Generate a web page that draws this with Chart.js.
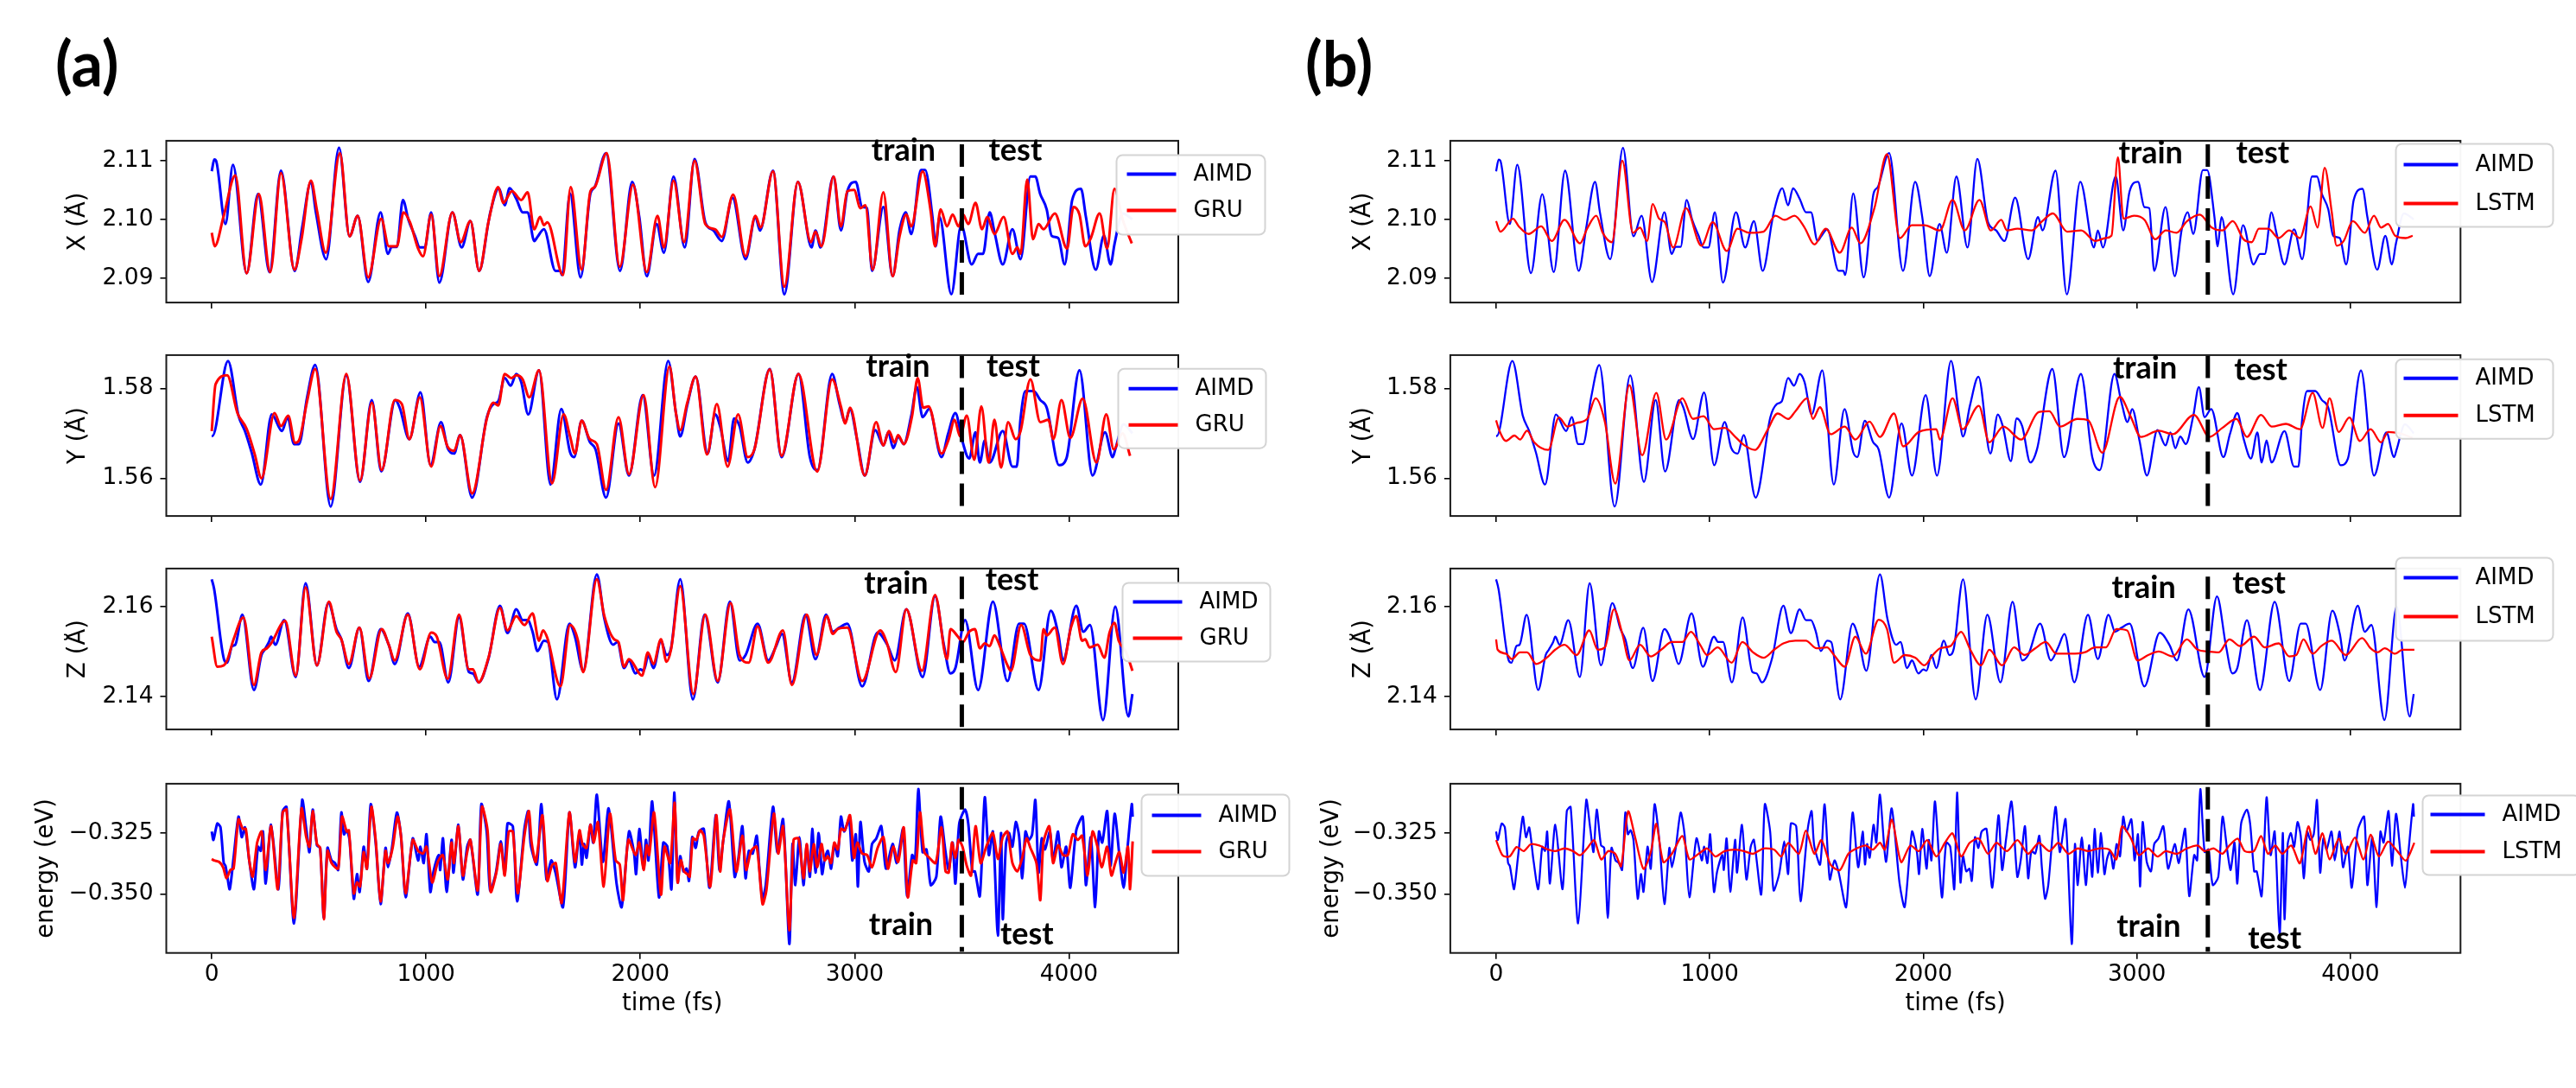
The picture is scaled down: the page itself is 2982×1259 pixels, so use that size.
<!DOCTYPE html>
<html><head><meta charset="utf-8">
<script src="https://cdn.jsdelivr.net/npm/chart.js@4.4.0/dist/chart.umd.min.js"></script>
<style>
html,body{margin:0;padding:0;background:#fff;}
body{width:2982px;height:1259px;position:relative;overflow:hidden;}
canvas{position:absolute;}
.lab{position:absolute;font-family:Lato,'DejaVu Sans',sans-serif;font-weight:bold;font-size:72px;line-height:72px;color:#000;}
</style></head><body>
<div class="lab" style="left:64px;top:36px">(a)</div>
<div class="lab" style="left:1511px;top:36px">(b)</div>
<script>
// ---------------- data (time in fs, value) ----------------
const timeTicks = [0, 1000, 2000, 3000, 4000];
const xTicks = [2.09, 2.10, 2.11];
const yTicks = [1.56, 1.58];
const zTicks = [2.14, 2.16];
const eTicks = [-0.350, -0.325];
const splitGRU = 3500;
const splitLSTM = 3332;

const aimdX = [[0,2.1082],[12,2.1102],[20,2.1100],[64,2.0992],[99,2.1093],[163,2.0908],[216,2.1043],[270,2.0910],[323,2.1083],[387,2.0912],[422,2.0986],[463,2.1064],[486,2.1012],[534,2.0932],[594,2.1122],[643,2.0971],[681,2.1006],[730,2.0893],[788,2.1012],[822,2.0941],[840,2.0953],[864,2.0953],[892,2.1033],[918,2.0999],[948,2.0972],[971,2.0952],[994,2.0952],[1024,2.1012],[1062,2.0892],[1123,2.1012],[1166,2.0952],[1207,2.0997],[1248,2.0912],[1291,2.0995],[1300,2.1012],[1340,2.1053],[1367,2.1024],[1390,2.1053],[1421,2.1035],[1451,2.1012],[1474,2.1012],[1505,2.0963],[1520,2.0970],[1550,2.0983],[1604,2.0912],[1626,2.0912],[1634,2.0905],[1672,2.1044],[1721,2.0901],[1767,2.1044],[1787,2.1055],[1840,2.1113],[1905,2.0912],[1962,2.1064],[1995,2.1004],[2030,2.0903],[2076,2.0992],[2110,2.0943],[2155,2.1073],[2207,2.0952],[2253,2.1103],[2303,2.0995],[2341,2.0981],[2380,2.0963],[2430,2.1037],[2491,2.0932],[2537,2.1004],[2558,2.0981],[2619,2.1083],[2672,2.0872],[2735,2.1064],[2799,2.0952],[2817,2.0981],[2841,2.0952],[2901,2.1073],[2936,2.0981],[2966,2.1048],[3005,2.1064],[3035,2.1021],[3058,2.1019],[3081,2.0912],[3134,2.1021],[3177,2.0903],[3210,2.0983],[3238,2.1012],[3264,2.0975],[3309,2.1084],[3329,2.1084],[3363,2.1004],[3378,2.0954],[3396,2.1004],[3451,2.0872],[3497,2.0990],[3546,2.0923],[3576,2.0941],[3599,2.0941],[3630,2.1012],[3653,2.0977],[3691,2.0923],[3736,2.0983],[3774,2.0932],[3820,2.1073],[3843,2.1073],[3865,2.1044],[3896,2.1017],[3919,2.0972],[3950,2.0968],[3980,2.0923],[4015,2.1033],[4056,2.1052],[4079,2.1004],[4125,2.0914],[4163,2.0972],[4194,2.0923],[4213,2.0959],[4250,2.1010],[4296,2.1000]];

const gruX = [[0,2.0977],[14,2.0954],[56,2.1006],[110,2.1075],[163,2.0908],[220,2.1043],[273,2.0910],[323,2.1079],[386,2.0914],[419,2.0966],[463,2.1066],[491,2.1015],[532,2.0943],[598,2.1113],[643,2.0971],[681,2.1006],[730,2.0901],[791,2.1001],[826,2.0954],[864,2.0954],[895,2.1012],[925,2.0995],[963,2.0950],[986,2.0937],[1024,2.1008],[1062,2.0903],[1123,2.1012],[1162,2.0961],[1207,2.0997],[1248,2.0912],[1291,2.0995],[1337,2.1055],[1360,2.1028],[1401,2.1048],[1444,2.1033],[1474,2.1046],[1505,2.0983],[1532,2.1004],[1550,2.0990],[1566,2.0995],[1639,2.0905],[1675,2.1055],[1726,2.0914],[1767,2.1048],[1787,2.1055],[1843,2.1113],[1904,2.0919],[1966,2.1059],[2030,2.0910],[2080,2.1006],[2110,2.0952],[2155,2.1066],[2204,2.0961],[2253,2.1100],[2303,2.0992],[2349,2.0983],[2380,2.0970],[2433,2.1042],[2491,2.0937],[2537,2.1006],[2561,2.0986],[2619,2.1082],[2672,2.0885],[2735,2.1064],[2796,2.0961],[2817,2.0979],[2845,2.0954],[2902,2.1073],[2936,2.0988],[2966,2.1048],[2997,2.1050],[3027,2.1019],[3050,2.1024],[3084,2.0914],[3134,2.1046],[3177,2.0903],[3210,2.0972],[3241,2.1008],[3264,2.0988],[3317,2.1082],[3355,2.1013],[3375,2.0954],[3401,2.1017],[3431,2.0988],[3457,2.1008],[3485,2.0988],[3506,2.1008],[3530,2.0992],[3564,2.1028],[3594,2.0983],[3619,2.1004],[3652,2.0975],[3695,2.1004],[3736,2.0941],[3759,2.0952],[3774,2.0941],[3805,2.1068],[3832,2.0966],[3858,2.0992],[3881,2.0983],[3934,2.1010],[3991,2.0950],[4021,2.1021],[4049,2.1008],[4076,2.0954],[4102,2.0968],[4143,2.1010],[4178,2.0950],[4212,2.1052],[4250,2.1000],[4293,2.0959]];

const lstmX = [[0,2.0997],[20,2.0979],[79,2.1001],[106,2.0988],[152,2.0975],[211,2.0988],[261,2.0963],[320,2.0999],[393,2.0959],[426,2.0984],[469,2.1006],[499,2.0977],[542,2.0961],[591,2.1100],[641,2.0977],[674,2.0986],[707,2.0963],[733,2.1026],[763,2.1001],[790,2.0995],[829,2.0952],[889,2.1019],[961,2.0955],[1014,2.0995],[1080,2.0946],[1130,2.0984],[1186,2.0977],[1252,2.0979],[1308,2.1006],[1351,2.0999],[1397,2.1006],[1444,2.0986],[1490,2.0957],[1543,2.0984],[1609,2.0943],[1665,2.0986],[1705,2.0959],[1771,2.1019],[1830,2.1111],[1890,2.0968],[1946,2.0990],[2005,2.0990],[2078,2.0981],[2137,2.1033],[2194,2.0981],[2263,2.1033],[2316,2.0981],[2365,2.0999],[2392,2.0981],[2441,2.0984],[2507,2.0981],[2557,2.0997],[2607,2.1010],[2673,2.0979],[2739,2.0981],[2805,2.0963],[2854,2.0968],[2881,2.0972],[2911,2.1106],[2937,2.1001],[2986,2.1006],[3036,2.0999],[3086,2.0966],[3135,2.0981],[3185,2.0977],[3235,2.0997],[3294,2.1008],[3350,2.0986],[3400,2.0981],[3449,2.0997],[3499,2.0966],[3538,2.0961],[3571,2.0984],[3614,2.0984],[3664,2.0968],[3713,2.0981],[3763,2.0968],[3813,2.1022],[3846,2.0986],[3879,2.1088],[3912,2.1013],[3935,2.0955],[3968,2.0963],[4011,2.0997],[4067,2.0977],[4110,2.1006],[4143,2.0986],[4176,2.0992],[4209,2.0972],[4258,2.0968],[4291,2.0972]];

const aimdY = [[0,1.5694],[3,1.5694],[76,1.5861],[125,1.5739],[155,1.5705],[186,1.5658],[229,1.5586],[280,1.5742],[328,1.5705],[354,1.5736],[384,1.5676],[407,1.5676],[445,1.5780],[483,1.5852],[555,1.5537],[628,1.5829],[692,1.5592],[747,1.5774],[791,1.5615],[857,1.5774],[877,1.5757],[922,1.5687],[974,1.5791],[1021,1.5629],[1070,1.5725],[1101,1.5667],[1131,1.5655],[1159,1.5696],[1215,1.5557],[1284,1.5736],[1314,1.5765],[1337,1.5771],[1367,1.5823],[1395,1.5806],[1421,1.5832],[1444,1.5814],[1477,1.5742],[1527,1.5840],[1581,1.5586],[1631,1.5754],[1672,1.5658],[1691,1.5647],[1726,1.5728],[1764,1.5681],[1791,1.5664],[1840,1.5557],[1898,1.5722],[1947,1.5606],[2011,1.5785],[2064,1.5606],[2130,1.5861],[2166,1.5745],[2186,1.5693],[2219,1.5763],[2258,1.5826],[2314,1.5655],[2349,1.5742],[2372,1.5716],[2410,1.5638],[2437,1.5733],[2463,1.5716],[2501,1.5635],[2532,1.5664],[2604,1.5843],[2659,1.5647],[2738,1.5832],[2791,1.5647],[2826,1.5618],[2895,1.5832],[2928,1.5768],[2956,1.5725],[2978,1.5754],[3012,1.5684],[3047,1.5606],[3096,1.5707],[3134,1.5673],[3157,1.5702],[3180,1.5667],[3203,1.5693],[3229,1.5676],[3264,1.5739],[3290,1.5803],[3317,1.5736],[3348,1.5754],[3405,1.5647],[3436,1.5699],[3470,1.5745],[3500,1.5687],[3534,1.5644],[3564,1.5702],[3584,1.5635],[3607,1.5684],[3630,1.5635],[3691,1.5705],[3736,1.5626],[3756,1.5626],[3774,1.5733],[3797,1.5794],[3835,1.5794],[3866,1.5774],[3896,1.5757],[3954,1.5629],[3988,1.5644],[4049,1.5840],[4110,1.5606],[4168,1.5702],[4204,1.5647],[4216,1.5664],[4255,1.5720],[4296,1.5700]];

const gruY = [[0,1.5705],[18,1.5809],[72,1.5829],[120,1.5745],[163,1.5710],[201,1.5653],[232,1.5600],[293,1.5745],[323,1.5716],[357,1.5739],[389,1.5679],[407,1.5684],[445,1.5771],[483,1.5843],[555,1.5554],[628,1.5832],[692,1.5595],[747,1.5768],[793,1.5618],[854,1.5774],[887,1.5765],[922,1.5687],[971,1.5780],[1024,1.5626],[1067,1.5716],[1101,1.5670],[1131,1.5661],[1159,1.5696],[1215,1.5566],[1284,1.5733],[1314,1.5768],[1337,1.5762],[1367,1.5832],[1398,1.5823],[1421,1.5829],[1451,1.5820],[1482,1.5780],[1527,1.5840],[1588,1.5589],[1642,1.5742],[1672,1.5693],[1695,1.5655],[1726,1.5728],[1764,1.5687],[1797,1.5676],[1840,1.5574],[1898,1.5736],[1947,1.5609],[2015,1.5785],[2069,1.5580],[2136,1.5849],[2166,1.5745],[2186,1.5707],[2219,1.5768],[2258,1.5826],[2311,1.5653],[2357,1.5765],[2407,1.5626],[2456,1.5742],[2501,1.5647],[2532,1.5664],[2604,1.5842],[2659,1.5650],[2738,1.5832],[2825,1.5615],[2895,1.5820],[2936,1.5759],[2956,1.5722],[2978,1.5757],[3047,1.5606],[3100,1.5725],[3134,1.5673],[3160,1.5705],[3186,1.5679],[3203,1.5696],[3229,1.5676],[3268,1.5739],[3294,1.5823],[3320,1.5757],[3345,1.5760],[3405,1.5655],[3439,1.5687],[3466,1.5730],[3492,1.5693],[3523,1.5739],[3558,1.5641],[3591,1.5760],[3625,1.5635],[3652,1.5730],[3683,1.5624],[3716,1.5725],[3751,1.5687],[3774,1.5705],[3820,1.5820],[3866,1.5725],[3904,1.5730],[3927,1.5687],[3965,1.5774],[4006,1.5690],[4064,1.5777],[4128,1.5635],[4174,1.5742],[4209,1.5664],[4250,1.5700],[4285,1.5650]];

const lstmY = [[0,1.5729],[13,1.5709],[46,1.5683],[86,1.5695],[112,1.5686],[145,1.5706],[178,1.5680],[244,1.5663],[294,1.5735],[334,1.5715],[377,1.5723],[426,1.5732],[466,1.5778],[509,1.5726],[558,1.5588],[624,1.5807],[684,1.5651],[750,1.5790],[796,1.5686],[872,1.5778],[922,1.5732],[971,1.5738],[1021,1.5709],[1070,1.5712],[1120,1.5692],[1160,1.5674],[1212,1.5663],[1269,1.5706],[1318,1.5744],[1368,1.5732],[1401,1.5749],[1457,1.5778],[1483,1.5732],[1516,1.5758],[1566,1.5698],[1632,1.5715],[1682,1.5686],[1748,1.5726],[1797,1.5692],[1863,1.5744],[1906,1.5671],[1979,1.5703],[2061,1.5709],[2078,1.5686],[2137,1.5778],[2184,1.5709],[2260,1.5761],[2309,1.5680],[2375,1.5715],[2458,1.5686],[2540,1.5747],[2590,1.5749],[2640,1.5715],[2722,1.5732],[2772,1.5729],[2838,1.5657],[2920,1.5781],[2970,1.5738],[3019,1.5692],[3102,1.5706],[3168,1.5698],[3267,1.5741],[3340,1.5692],[3400,1.5712],[3466,1.5732],[3515,1.5692],[3581,1.5741],[3631,1.5715],[3697,1.5721],[3763,1.5709],[3823,1.5790],[3869,1.5712],[3902,1.5778],[3945,1.5703],[3995,1.5735],[4044,1.5683],[4094,1.5709],[4143,1.5680],[4176,1.5703],[4230,1.5700],[4290,1.5690]];

const aimdZ = [[0,2.1661],[11,2.1640],[59,2.1480],[72,2.1475],[95,2.1512],[110,2.1515],[143,2.1582],[197,2.1414],[232,2.1492],[247,2.1504],[267,2.1521],[277,2.1533],[297,2.1515],[338,2.1570],[392,2.1443],[438,2.1652],[491,2.1469],[544,2.1608],[582,2.1550],[605,2.1527],[640,2.1463],[689,2.1553],[732,2.1434],[788,2.1550],[826,2.1515],[854,2.1472],[915,2.1585],[968,2.1466],[1020,2.1533],[1040,2.1521],[1062,2.1521],[1104,2.1431],[1154,2.1576],[1200,2.1454],[1219,2.1451],[1245,2.1431],[1291,2.1483],[1345,2.1602],[1380,2.1541],[1421,2.1594],[1451,2.1570],[1474,2.1570],[1497,2.1544],[1520,2.1501],[1550,2.1524],[1569,2.1521],[1611,2.1393],[1669,2.1562],[1695,2.1533],[1733,2.1457],[1797,2.1672],[1832,2.1573],[1873,2.1515],[1893,2.1521],[1924,2.1463],[1947,2.1480],[1977,2.1451],[2000,2.1460],[2015,2.1457],[2038,2.1492],[2061,2.1463],[2096,2.1524],[2122,2.1492],[2143,2.1507],[2186,2.1661],[2245,2.1393],[2300,2.1582],[2361,2.1431],[2418,2.1611],[2463,2.1480],[2491,2.1492],[2547,2.1562],[2597,2.1480],[2631,2.1509],[2661,2.1539],[2707,2.1431],[2771,2.1582],[2817,2.1483],[2867,2.1582],[2898,2.1544],[2928,2.1553],[2966,2.1562],[3035,2.1422],[3107,2.1542],[3152,2.1515],[3187,2.1480],[3241,2.1594],[3317,2.1443],[3375,2.1623],[3416,2.1515],[3447,2.1451],[3470,2.1463],[3515,2.1570],[3576,2.1414],[3645,2.1611],[3713,2.1434],[3767,2.1562],[3790,2.1562],[3858,2.1414],[3915,2.1591],[3950,2.1539],[3972,2.1480],[4034,2.1602],[4067,2.1544],[4098,2.1559],[4159,2.1347],[4216,2.1600],[4277,2.1355],[4296,2.1405]];

const gruZ = [[0,2.1533],[26,2.1466],[56,2.1469],[72,2.1480],[102,2.1527],[148,2.1576],[197,2.1425],[232,2.1498],[257,2.1507],[277,2.1518],[343,2.1568],[392,2.1446],[438,2.1643],[491,2.1469],[547,2.1611],[582,2.1544],[605,2.1527],[640,2.1472],[689,2.1553],[735,2.1440],[793,2.1550],[826,2.1515],[854,2.1480],[915,2.1582],[971,2.1460],[1024,2.1542],[1050,2.1533],[1101,2.1439],[1154,2.1582],[1200,2.1460],[1219,2.1460],[1245,2.1431],[1293,2.1489],[1345,2.1597],[1380,2.1547],[1421,2.1579],[1459,2.1559],[1497,2.1585],[1527,2.1524],[1546,2.1547],[1566,2.1530],[1627,2.1422],[1672,2.1559],[1709,2.1524],[1733,2.1454],[1797,2.1661],[1832,2.1579],[1878,2.1527],[1898,2.1521],[1924,2.1466],[1947,2.1483],[2008,2.1446],[2035,2.1498],[2061,2.1472],[2096,2.1527],[2122,2.1477],[2143,2.1504],[2186,2.1646],[2247,2.1405],[2303,2.1582],[2361,2.1434],[2421,2.1608],[2463,2.1492],[2506,2.1475],[2547,2.1556],[2597,2.1475],[2665,2.1547],[2707,2.1425],[2776,2.1582],[2822,2.1492],[2870,2.1579],[2898,2.1539],[2921,2.1550],[2966,2.1553],[3035,2.1434],[3119,2.1547],[3149,2.1521],[3192,2.1454],[3241,2.1594],[3314,2.1457],[3375,2.1626],[3431,2.1483],[3447,2.1550],[3482,2.1533],[3505,2.1521],[3534,2.1544],[3561,2.1550],[3584,2.1507],[3607,2.1518],[3630,2.1512],[3652,2.1536],[3675,2.1515],[3713,2.1469],[3729,2.1457],[3777,2.1559],[3820,2.1492],[3866,2.1480],[3881,2.1550],[3896,2.1536],[3934,2.1553],[3972,2.1472],[4009,2.1553],[4034,2.1579],[4061,2.1524],[4076,2.1527],[4096,2.1509],[4134,2.1515],[4165,2.1486],[4189,2.1542],[4212,2.1564],[4232,2.1524],[4265,2.1500],[4296,2.1457]];

const lstmZ = [[0,2.1527],[7,2.1504],[46,2.1495],[73,2.1483],[112,2.1498],[145,2.1498],[188,2.1472],[244,2.1489],[277,2.1504],[320,2.1515],[377,2.1492],[436,2.1547],[476,2.1504],[509,2.1509],[552,2.1594],[591,2.1539],[624,2.1480],[674,2.1515],[724,2.1489],[773,2.1504],[823,2.1521],[872,2.1521],[912,2.1544],[955,2.1515],[988,2.1492],[1037,2.1509],[1103,2.1475],[1153,2.1521],[1203,2.1498],[1252,2.1486],[1302,2.1504],[1345,2.1518],[1401,2.1524],[1450,2.1524],[1500,2.1507],[1549,2.1509],[1582,2.1492],[1632,2.1466],[1682,2.1533],[1731,2.1495],[1791,2.1571],[1830,2.1550],[1863,2.1475],[1913,2.1492],[1962,2.1486],[2005,2.1469],[2045,2.1492],[2078,2.1507],[2127,2.1512],[2177,2.1544],[2220,2.1504],[2270,2.1469],[2309,2.1504],[2369,2.1469],[2425,2.1509],[2474,2.1492],[2524,2.1507],[2573,2.1521],[2623,2.1495],[2689,2.1495],[2755,2.1498],[2805,2.1509],[2854,2.1509],[2904,2.1550],[2954,2.1547],[3003,2.1480],[3053,2.1492],[3102,2.1500],[3168,2.1489],[3234,2.1527],[3284,2.1504],[3333,2.1500],[3383,2.1498],[3433,2.1527],[3483,2.1512],[3549,2.1533],[3598,2.1509],[3664,2.1518],[3713,2.1489],[3746,2.1492],[3780,2.1527],[3823,2.1495],[3863,2.1512],[3912,2.1524],[3978,2.1492],[4054,2.1530],[4094,2.1507],[4126,2.1498],[4160,2.1507],[4209,2.1495],[4243,2.1504],[4299,2.1504]];

const aimdE = [[0,-0.3245],[8,-0.3279],[26,-0.3212],[41,-0.3228],[56,-0.3374],[64,-0.3385],[72,-0.3425],[84,-0.3481],[102,-0.3352],[125,-0.3184],[140,-0.3268],[155,-0.3228],[175,-0.3363],[197,-0.3481],[216,-0.3307],[229,-0.3324],[239,-0.3245],[252,-0.3458],[277,-0.3217],[311,-0.3481],[331,-0.3161],[349,-0.3144],[384,-0.3621],[422,-0.3116],[441,-0.3234],[456,-0.3329],[471,-0.3155],[491,-0.3301],[506,-0.3312],[523,-0.3599],[540,-0.3312],[559,-0.3363],[575,-0.3374],[590,-0.3402],[605,-0.3167],[617,-0.3256],[630,-0.3240],[643,-0.3279],[663,-0.3520],[678,-0.3419],[690,-0.3492],[709,-0.3307],[724,-0.3397],[742,-0.3133],[765,-0.3290],[788,-0.3542],[811,-0.3312],[823,-0.3391],[841,-0.3312],[864,-0.3167],[883,-0.3262],[905,-0.3514],[938,-0.3273],[963,-0.3363],[974,-0.3307],[989,-0.3374],[1002,-0.3256],[1020,-0.3492],[1035,-0.3408],[1059,-0.3341],[1066,-0.3402],[1079,-0.3273],[1096,-0.3492],[1119,-0.3279],[1128,-0.3413],[1151,-0.3217],[1172,-0.3441],[1192,-0.3307],[1207,-0.3279],[1241,-0.3503],[1258,-0.3133],[1283,-0.3245],[1299,-0.3486],[1325,-0.3419],[1349,-0.3285],[1367,-0.3419],[1380,-0.3212],[1405,-0.3223],[1425,-0.3531],[1459,-0.3234],[1477,-0.3161],[1489,-0.3301],[1517,-0.3380],[1538,-0.3133],[1562,-0.3441],[1584,-0.3363],[1604,-0.3413],[1639,-0.3554],[1669,-0.3167],[1695,-0.3391],[1716,-0.3245],[1727,-0.3380],[1737,-0.3296],[1749,-0.3352],[1767,-0.3217],[1780,-0.3290],[1797,-0.3094],[1825,-0.3369],[1852,-0.3150],[1889,-0.3458],[1913,-0.3554],[1947,-0.3245],[1970,-0.3329],[1980,-0.3419],[1995,-0.3234],[2015,-0.3397],[2026,-0.3279],[2038,-0.3363],[2055,-0.3122],[2087,-0.3514],[2107,-0.3290],[2126,-0.3307],[2145,-0.3481],[2158,-0.3085],[2174,-0.3453],[2186,-0.3346],[2201,-0.3408],[2216,-0.3397],[2227,-0.3447],[2242,-0.3268],[2258,-0.3312],[2273,-0.3245],[2296,-0.3234],[2323,-0.3475],[2352,-0.3178],[2369,-0.3402],[2387,-0.3279],[2413,-0.3122],[2440,-0.3430],[2456,-0.3363],[2476,-0.3223],[2491,-0.3436],[2506,-0.3324],[2524,-0.3335],[2543,-0.3262],[2555,-0.3391],[2570,-0.3520],[2585,-0.3464],[2619,-0.3144],[2639,-0.3329],[2666,-0.3195],[2695,-0.3705],[2710,-0.3296],[2723,-0.3464],[2742,-0.3268],[2761,-0.3464],[2776,-0.3301],[2791,-0.3430],[2802,-0.3234],[2817,-0.3413],[2832,-0.3251],[2848,-0.3419],[2860,-0.3357],[2875,-0.3324],[2890,-0.3397],[2905,-0.3296],[2921,-0.3346],[2936,-0.3184],[2951,-0.3245],[2974,-0.3195],[2989,-0.3363],[3005,-0.3256],[3015,-0.3470],[3027,-0.3206],[3046,-0.3369],[3066,-0.3408],[3081,-0.3296],[3101,-0.3273],[3124,-0.3223],[3146,-0.3397],[3177,-0.3296],[3195,-0.3374],[3210,-0.3307],[3226,-0.3234],[3245,-0.3509],[3268,-0.3341],[3282,-0.3363],[3297,-0.3071],[3317,-0.3329],[3335,-0.3318],[3355,-0.3464],[3381,-0.3430],[3401,-0.3184],[3424,-0.3329],[3439,-0.3402],[3457,-0.3290],[3470,-0.3458],[3488,-0.3212],[3515,-0.3155],[3530,-0.3212],[3549,-0.3408],[3561,-0.3408],[3584,-0.3509],[3607,-0.3105],[3626,-0.3341],[3645,-0.3245],[3668,-0.3671],[3683,-0.3251],[3691,-0.3604],[3706,-0.3296],[3721,-0.3251],[3736,-0.3307],[3752,-0.3206],[3767,-0.3262],[3782,-0.3436],[3797,-0.3245],[3812,-0.3279],[3828,-0.3256],[3843,-0.3116],[3858,-0.3413],[3873,-0.3273],[3888,-0.3318],[3911,-0.3245],[3926,-0.3363],[3949,-0.3245],[3965,-0.3391],[3987,-0.3307],[4006,-0.3475],[4034,-0.3240],[4064,-0.3184],[4079,-0.3464],[4102,-0.3268],[4122,-0.3554],[4140,-0.3245],[4155,-0.3290],[4178,-0.3161],[4194,-0.3385],[4213,-0.3172],[4235,-0.3341],[4255,-0.3475],[4270,-0.3341],[4293,-0.3133],[4297,-0.3184]];

const gruE = [[0,-0.3357],[11,-0.3363],[34,-0.3369],[53,-0.3391],[69,-0.3436],[87,-0.3402],[102,-0.3397],[125,-0.3195],[145,-0.3234],[159,-0.3234],[175,-0.3363],[191,-0.3430],[212,-0.3290],[233,-0.3245],[252,-0.3402],[277,-0.3223],[308,-0.3481],[331,-0.3167],[349,-0.3155],[384,-0.3599],[419,-0.3150],[441,-0.3268],[456,-0.3307],[471,-0.3161],[491,-0.3296],[506,-0.3312],[523,-0.3604],[540,-0.3324],[559,-0.3374],[590,-0.3397],[608,-0.3184],[630,-0.3245],[640,-0.3240],[663,-0.3498],[678,-0.3453],[692,-0.3470],[709,-0.3329],[724,-0.3397],[745,-0.3144],[765,-0.3279],[788,-0.3531],[811,-0.3324],[823,-0.3374],[844,-0.3312],[867,-0.3184],[883,-0.3262],[905,-0.3498],[938,-0.3279],[963,-0.3324],[986,-0.3335],[1002,-0.3307],[1029,-0.3453],[1055,-0.3369],[1078,-0.3341],[1101,-0.3441],[1119,-0.3290],[1130,-0.3374],[1151,-0.3223],[1172,-0.3425],[1192,-0.3329],[1207,-0.3279],[1241,-0.3486],[1261,-0.3144],[1287,-0.3240],[1302,-0.3492],[1329,-0.3408],[1349,-0.3296],[1367,-0.3425],[1386,-0.3245],[1405,-0.3245],[1428,-0.3498],[1459,-0.3262],[1480,-0.3161],[1492,-0.3285],[1512,-0.3369],[1543,-0.3178],[1566,-0.3447],[1587,-0.3385],[1605,-0.3374],[1633,-0.3537],[1669,-0.3167],[1695,-0.3369],[1716,-0.3240],[1730,-0.3296],[1749,-0.3312],[1767,-0.3217],[1783,-0.3290],[1802,-0.3206],[1829,-0.3470],[1858,-0.3172],[1885,-0.3363],[1904,-0.3380],[1919,-0.3526],[1944,-0.3279],[1977,-0.3341],[1995,-0.3290],[2015,-0.3402],[2030,-0.3301],[2041,-0.3341],[2064,-0.3167],[2096,-0.3503],[2113,-0.3307],[2139,-0.3374],[2160,-0.3127],[2174,-0.3453],[2189,-0.3363],[2204,-0.3408],[2219,-0.3419],[2230,-0.3430],[2245,-0.3273],[2261,-0.3279],[2279,-0.3240],[2296,-0.3262],[2326,-0.3470],[2354,-0.3178],[2372,-0.3408],[2387,-0.3279],[2418,-0.3155],[2448,-0.3408],[2476,-0.3262],[2494,-0.3402],[2517,-0.3324],[2543,-0.3307],[2570,-0.3542],[2588,-0.3486],[2623,-0.3172],[2643,-0.3335],[2666,-0.3223],[2695,-0.3649],[2715,-0.3279],[2738,-0.3273],[2761,-0.3436],[2776,-0.3296],[2791,-0.3408],[2809,-0.3296],[2825,-0.3391],[2845,-0.3296],[2860,-0.3363],[2875,-0.3346],[2890,-0.3374],[2905,-0.3290],[2921,-0.3318],[2936,-0.3234],[2954,-0.3240],[2978,-0.3178],[2997,-0.3352],[3012,-0.3290],[3035,-0.3335],[3058,-0.3341],[3081,-0.3391],[3107,-0.3312],[3134,-0.3268],[3155,-0.3397],[3180,-0.3307],[3203,-0.3369],[3229,-0.3228],[3248,-0.3514],[3271,-0.3363],[3287,-0.3374],[3305,-0.3167],[3325,-0.3329],[3348,-0.3352],[3378,-0.3374],[3405,-0.3228],[3424,-0.3408],[3439,-0.3413],[3454,-0.3290],[3470,-0.3352],[3485,-0.3279],[3503,-0.3307],[3523,-0.3385],[3543,-0.3425],[3564,-0.3223],[3588,-0.3374],[3614,-0.3307],[3645,-0.3251],[3668,-0.3357],[3691,-0.3268],[3713,-0.3245],[3736,-0.3374],[3759,-0.3408],[3782,-0.3352],[3802,-0.3273],[3820,-0.3312],[3848,-0.3374],[3866,-0.3526],[3881,-0.3290],[3908,-0.3223],[3926,-0.3374],[3949,-0.3301],[3972,-0.3341],[3995,-0.3341],[4018,-0.3256],[4041,-0.3279],[4061,-0.3262],[4087,-0.3425],[4110,-0.3245],[4133,-0.3307],[4153,-0.3391],[4178,-0.3307],[4198,-0.3425],[4216,-0.3374],[4235,-0.3329],[4255,-0.3413],[4275,-0.3307],[4285,-0.3481],[4297,-0.3285]];

const lstmE = [[0,-0.3280],[30,-0.3342],[63,-0.3347],[96,-0.3308],[129,-0.3325],[162,-0.3297],[202,-0.3302],[244,-0.3319],[277,-0.3325],[320,-0.3314],[360,-0.3325],[393,-0.3342],[426,-0.3314],[459,-0.3280],[492,-0.3359],[525,-0.3325],[558,-0.3336],[585,-0.3387],[618,-0.3162],[651,-0.3269],[690,-0.3398],[724,-0.3330],[750,-0.3213],[783,-0.3370],[823,-0.3336],[872,-0.3263],[905,-0.3359],[948,-0.3336],[988,-0.3314],[1027,-0.3347],[1070,-0.3325],[1120,-0.3319],[1160,-0.3325],[1203,-0.3336],[1252,-0.3314],[1302,-0.3319],[1335,-0.3347],[1368,-0.3291],[1417,-0.3336],[1450,-0.3241],[1490,-0.3336],[1523,-0.3280],[1566,-0.3381],[1609,-0.3403],[1649,-0.3336],[1688,-0.3314],[1731,-0.3302],[1764,-0.3319],[1797,-0.3291],[1820,-0.3319],[1853,-0.3196],[1896,-0.3370],[1939,-0.3302],[1979,-0.3325],[2018,-0.3280],[2061,-0.3347],[2101,-0.3291],[2137,-0.3252],[2177,-0.3347],[2217,-0.3291],[2260,-0.3274],[2303,-0.3336],[2342,-0.3291],[2392,-0.3325],[2441,-0.3280],[2491,-0.3336],[2540,-0.3291],[2590,-0.3325],[2633,-0.3291],[2679,-0.3336],[2722,-0.3314],[2772,-0.3325],[2821,-0.3314],[2871,-0.3319],[2904,-0.3359],[2930,-0.3224],[2970,-0.3269],[3009,-0.3342],[3053,-0.3314],[3096,-0.3347],[3135,-0.3325],[3185,-0.3336],[3234,-0.3314],[3284,-0.3302],[3317,-0.3325],[3360,-0.3314],[3400,-0.3336],[3433,-0.3302],[3472,-0.3274],[3505,-0.3325],[3548,-0.3325],[3581,-0.3263],[3614,-0.3336],[3648,-0.3302],[3681,-0.3336],[3723,-0.3302],[3763,-0.3375],[3803,-0.3224],[3836,-0.3336],[3869,-0.3252],[3902,-0.3359],[3945,-0.3274],[3978,-0.3336],[4021,-0.3269],[4061,-0.3359],[4094,-0.3258],[4133,-0.3347],[4176,-0.3286],[4219,-0.3325],[4259,-0.3364],[4299,-0.3291]];

// ---------------- layout (page pixels) ----------------
const rowsGeom = [
  {key:'X', pt:152.5, pb:359,   ymin:2.0858,  ymax:2.1134,  dash:[2.1128,2.0867],   ticks:xTicks, dec:2, title:'X (Å)'},
  {key:'Y', pt:401.3, pb:607.6, ymin:1.5516,  ymax:1.5874,  dash:[1.5873,1.5535],   ticks:yTicks, dec:2, title:'Y (Å)'},
  {key:'Z', pt:647.5, pb:853.8, ymin:2.1326,  ymax:2.1685,  dash:[2.1667,2.1330],   ticks:zTicks, dec:2, title:'Z (Å)'},
  {key:'E', pt:896.5, pb:1102.2,ymin:-0.3742, ymax:-0.3049, dash:[-0.3063,-0.3737], ticks:eTicks, dec:3, title:'energy (eV)'}
];
const panels = [
  {pl:192, pr:1363, cr:1520, titleCx:[90,90,90,53], xmin:-212, xmax:4510, split:splitGRU, model:'GRU', lw:3,
   series:{X:[aimdX,gruX],Y:[aimdY,gruY],Z:[aimdZ,gruZ],E:[aimdE,gruE]},
   notes:{X:[['train',3228,2.1100],['test',3750,2.1100]], Y:[['train',3202,1.5826],['test',3740,1.5826]],
          Z:[['train',3194,2.1629],['test',3734,2.1637]], E:[['train',3216,-0.3667],['test',3804,-0.3707]]},
   legend:{X:[1292,179,172,92,201,243], Y:[1294,427,171,92,450,492], Z:[1299,674,171,91,696,738], E:[1321,919,171,94,943,985]},
   legLine:[12,69,89]},
  {pl:1678.4, pr:2847.3, cr:2982, titleCx:[1578,1578,1578,1541], xmin:-214.4, xmax:4515, split:splitLSTM, model:'LSTM', lw:2.3,
   series:{X:[aimdX,lstmX],Y:[aimdY,lstmY],Z:[aimdZ,lstmZ],E:[aimdE,lstmE]},
   notes:{X:[['train',3065,2.1095],['test',3589,2.1095]], Y:[['train',3038,1.5821],['test',3580,1.5819]],
          Z:[['train',3032,2.1620],['test',3572,2.1629]], E:[['train',3055,-0.3677],['test',3645,-0.3724]]},
   legend:{X:[2773,166,182,96,190,235], Y:[2773,416,182,92,438,481], Z:[2773,645,182,96,668,713], E:[2804,920,182,92,942,985]},
   legLine:[9,72,92]}
];

const FONT = "'DejaVu Sans', sans-serif";
const toXY = arr => arr.map(p => ({x:p[0], y:p[1]}));
const fmt = (v, d) => { const s = Math.abs(v).toFixed(d); return v < 0 ? '\u2212' + s : s; };

function overlayPlugin(notes, leg, legLine, labels, off) {
  return {
    id: 'overlay',
    afterDatasetsDraw(chart) {
      const {ctx, chartArea:a} = chart;
      ctx.save();
      ctx.strokeStyle = '#1a1a1a'; ctx.lineWidth = 2;
      ctx.strokeRect(a.left, a.top, a.right - a.left, a.bottom - a.top);
      ctx.restore();
    },
    afterDraw(chart) {
      const {ctx, scales:{x, y}} = chart;
      ctx.save();
      ctx.font = "bold 36px Lato, 'DejaVu Sans', sans-serif";
      ctx.fillStyle = '#000'; ctx.textAlign = 'center'; ctx.textBaseline = 'alphabetic';
      notes.forEach(n => ctx.fillText(n[0], x.getPixelForValue(n[1]), y.getPixelForValue(n[2])));
      // legend
      const L = leg[0] - off[0], T = leg[1] - off[1], W = leg[2], H = leg[3];
      ctx.beginPath();
      if (ctx.roundRect) ctx.roundRect(L, T, W, H, 7); else ctx.rect(L, T, W, H);
      ctx.fillStyle = 'rgba(255,255,255,0.96)'; ctx.fill();
      ctx.strokeStyle = '#d4d4d4'; ctx.lineWidth = 2; ctx.stroke();
      const cols = ['#0000ff', '#ff0000'];
      [leg[4], leg[5]].forEach((ry, i) => {
        const yy = ry - off[1];
        ctx.beginPath(); ctx.strokeStyle = cols[i]; ctx.lineWidth = 4;
        ctx.moveTo(L + legLine[0], yy); ctx.lineTo(L + legLine[1], yy); ctx.stroke();
        ctx.fillStyle = '#000'; ctx.font = '26px ' + FONT; ctx.textAlign = 'left'; ctx.textBaseline = 'middle';
        ctx.fillText(labels[i], L + legLine[2], yy + 1);
      });
      ctx.restore();
    }
  };
}

function makeChart(P, R, ri) {
  const isBottom = ri === 3;
  const titleOff = 27.5 * 1.2 / 2;
  const cl = P.titleCx[ri] - titleOff;
  const ct = R.pt - 14;
  const cb = isBottom ? 1161 + titleOff : R.pb + 14;
  const cr = P.cr;
  const W = Math.round(cr - cl), H = Math.round(cb - ct);
  const cv = document.createElement('canvas');
  cv.width = W; cv.height = H;
  cv.style.left = cl + 'px'; cv.style.top = ct + 'px';
  cv.style.width = W + 'px'; cv.style.height = H + 'px';
  document.body.appendChild(cv);
  const [aimd, pred] = P.series[R.key];
  const smooth = R.key === 'E' ? 'default' : 'monotone';
  new Chart(cv, {
    type: 'line',
    data: { datasets: [
      { label:'split', data:[{x:P.split, y:R.dash[0]}, {x:P.split, y:R.dash[1]}], borderColor:'#000', borderWidth:5, borderDash:[26,11], pointRadius:0, order:0 },
      { label:P.model, data:toXY(pred), borderColor:'#ff0000', borderWidth:P.lw, pointRadius:0, cubicInterpolationMode:smooth, tension:R.key === 'E' ? 0.25 : 0, order:1 },
      { label:'AIMD', data:toXY(aimd), borderColor:'#0000ff', borderWidth:P.lw, pointRadius:0, cubicInterpolationMode:smooth, tension:R.key === 'E' ? 0.25 : 0, order:2 }
    ]},
    options: {
      responsive:false, animation:false, devicePixelRatio:1,
      layout:{ padding:{ left:0, top:R.pt - ct, right:cr - P.pr, bottom:0 } },
      plugins:{ legend:{display:false}, tooltip:{enabled:false}, title:{display:false} },
      elements:{ line:{ borderJoinStyle:'round', borderCapStyle:'butt' } },
      scales:{
        x:{ type:'linear', position:'bottom', min:P.xmin, max:P.xmax,
            afterFit: s => { s.height = cb - R.pb; },
            afterBuildTicks: s => { s.ticks = timeTicks.map(v => ({value:v})); },
            ticks:{ display:isBottom, color:'#000', padding:3, maxRotation:0, autoSkip:false,
                    font:{family:FONT, size:26.5}, callback: v => String(v) },
            grid:{ display:true, drawOnChartArea:false, drawTicks:true, tickLength:7, color:'#000', lineWidth:1.6 },
            border:{ display:false },
            title:{ display:isBottom, text:'time (fs)', color:'#000', font:{family:FONT, size:27.5}, padding:0 } },
        y:{ type:'linear', position:'left', min:R.ymin, max:R.ymax,
            afterFit: s => { s.width = P.pl - cl; },
            afterBuildTicks: s => { s.ticks = R.ticks.map(v => ({value:v})); },
            ticks:{ color:'#000', padding:8, autoSkip:false, font:{family:FONT, size:26.5}, callback: v => fmt(v, R.dec) },
            grid:{ display:true, drawOnChartArea:false, drawTicks:true, tickLength:7, color:'#000', lineWidth:1.6 },
            border:{ display:false },
            title:{ display:true, text:R.title, color:'#000', font:{family:FONT, size:27.5}, padding:0 } }
      }
    },
    plugins:[ overlayPlugin(P.notes[R.key], P.legend[R.key], P.legLine, ['AIMD', P.model], [cl, ct]) ]
  });
}

panels.forEach(P => rowsGeom.forEach((R, ri) => makeChart(P, R, ri)));
</script>
</body></html>
